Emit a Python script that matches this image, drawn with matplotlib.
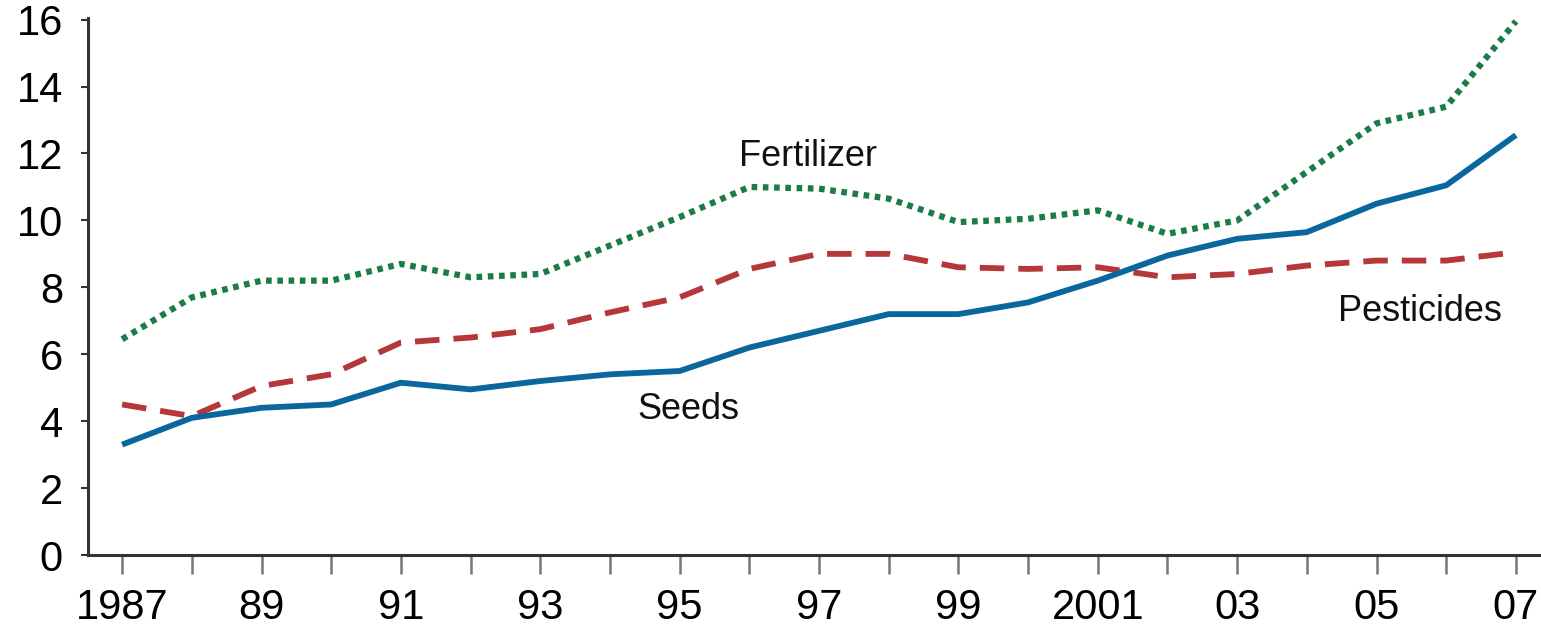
import matplotlib.pyplot as plt
import numpy as np

years = np.arange(1987, 2008)
seeds = [3.3, 4.1, 4.4, 4.5, 5.15, 4.95, 5.2, 5.4, 5.5, 6.2, 6.7,
         7.2, 7.2, 7.55, 8.2, 8.95, 9.45, 9.65, 10.5, 11.05, 12.55]
pesticides = [4.5, 4.15, 5.05, 5.4, 6.35, 6.5, 6.75, 7.25, 7.7, 8.55, 9.0,
              9.0, 8.6, 8.55, 8.6, 8.3, 8.4, 8.65, 8.8, 8.8, 9.05]
fertilizer = [6.45, 7.7, 8.2, 8.2, 8.7, 8.3, 8.4, 9.25, 10.1, 11.0, 10.95,
              10.65, 9.95, 10.05, 10.3, 9.6, 10.0, 11.45, 12.9, 13.4, 15.95]
tick_labels = ["1987", "", "89", "", "91", "", "93", "", "95", "", "97",
               "", "99", "", "2001", "", "03", "", "05", "", "07"]

plt.rcParams['font.family'] = ['Liberation Sans', 'DejaVu Sans']

fig = plt.figure(figsize=(15.41, 6.31), dpi=100)
ax = fig.add_axes([0.0571, 0.1204, 0.9429, 0.8511])

ax.plot(years, fertilizer, color='#1b7c47', lw=4.5, linestyle=(0, (0.9, 0.9)),
        dash_capstyle='butt')
ax.plot(years, pesticides, color='#b5373a', lw=4.2, linestyle=(0, (4.2, 2.4)),
        dash_capstyle='butt')
ax.plot(years, seeds, color='#0a679e', lw=4.2, solid_capstyle='butt')

ax.text(1996.84, 11.9, "Fertilizer", fontsize=26, ha='center', va='center', color='#111111')
ax.text(1995.12, 4.35, "Seeds", fontsize=26, ha='center', va='center', color='#111111')
ax.text(2005.62, 7.28, "Pesticides", fontsize=26, ha='center', va='center', color='#111111')

ax.set_xlim(1986.51, 2007.36)
ax.set_ylim(0, 16.05)
ax.set_xticks(years)
ax.set_xticklabels(tick_labels)
ax.set_yticks(np.arange(0, 17, 2))

for s in ['top', 'right']:
    ax.spines[s].set_visible(False)
ax.spines['left'].set_linewidth(2.2)
ax.spines['bottom'].set_linewidth(2.2)
ax.spines['left'].set_color('#333333')
ax.spines['bottom'].set_color('#333333')

ax.tick_params(axis='x', direction='out', length=14, width=1.8, color='#777777',
               labelsize=30, pad=10)
ax.tick_params(axis='y', direction='out', length=5, width=1.5, color='#333333',
               labelsize=30, pad=13)

plt.savefig('out.png', dpi=100)
plt.close()
